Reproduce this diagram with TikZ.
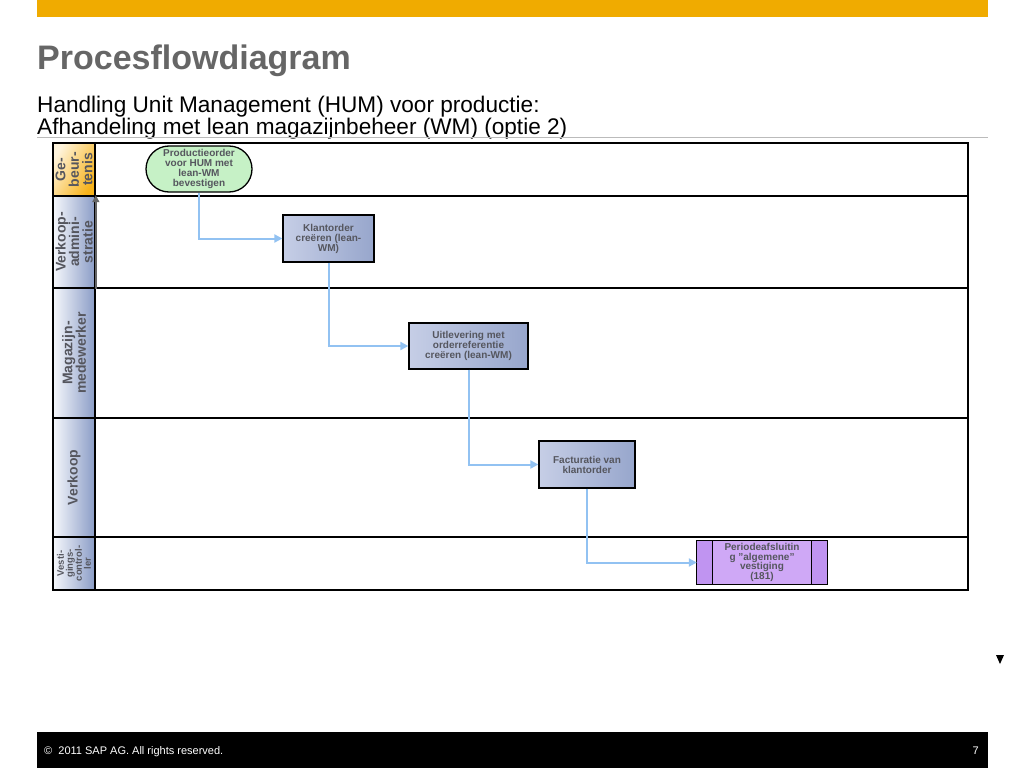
\documentclass[tikz,border=0pt]{standalone}
\usepackage{fontspec}
\setmainfont{Liberation Sans}
\usetikzlibrary{arrows.meta,shapes.misc}
\definecolor{sapgold}{HTML}{F0AB00}
\definecolor{titlegray}{HTML}{666666}
\definecolor{labeltext}{HTML}{55565E}
\definecolor{cellblueL}{HTML}{F6F8FC}
\definecolor{cellblueR}{HTML}{8A9CC6}
\definecolor{cellorL}{HTML}{FFF4DC}
\definecolor{cellorR}{HTML}{F6B21A}
\definecolor{boxA}{HTML}{C6CEE6}
\definecolor{boxB}{HTML}{F3F5FA}
\definecolor{boxC}{HTML}{97A6CC}
\definecolor{flowblue}{HTML}{92C2F2}
\definecolor{greenA}{HTML}{C6F1C6}
\definecolor{greenB}{HTML}{EAFDEA}
\definecolor{purpA}{HTML}{CFA8F6}
\definecolor{purpB}{HTML}{E6D2FC}
\definecolor{purpS}{HTML}{C094F1}
\definecolor{rulegray}{HTML}{BBBBBB}
\tikzset{
  lanecell/.style={draw=black, line width=1.6pt, minimum width=42pt, inner sep=0pt,
    left color=cellblueL, right color=cellblueR},
  lanebox/.style={draw=black, line width=1.6pt, minimum width=873pt, inner sep=0pt, fill=white},
  lanelabel/.style={rotate=90, align=center, text=labeltext,
    font=\fontsize{14}{13.5}\selectfont\bfseries},
  pbox/.style={draw=black, line width=1.3pt, inner sep=1pt, align=center, text=labeltext,
    left color=boxA, middle color=boxB, right color=boxC,
    font=\fontsize{10}{10}\selectfont\bfseries},
  flow/.style={draw=flowblue, line width=2pt, -{Triangle[width=8pt,length=8pt]}},
}
\begin{document}
\begin{tikzpicture}[x=1pt,y=-1pt]
\useasboundingbox (0,0) rectangle (1024,768);
\fill[white] (0,0) rectangle (1024,768);
% header
\fill[sapgold] (37,0) rectangle (988,17);
\node[anchor=base west, inner sep=0pt, text=titlegray, font=\fontsize{34}{40}\selectfont\bfseries] (title) at (37,70) {Procesflowdiagram};
\node[anchor=base west, inner sep=0pt, font=\fontsize{22.6}{25}\selectfont] (sub1) at (37,112) {Handling Unit Management (HUM) voor productie:};
\node[anchor=base west, inner sep=0pt, font=\fontsize{22.6}{25}\selectfont] (sub2) at (37,134) {Afhandeling met lean magazijnbeheer (WM) (optie 2)};
\draw[rulegray, line width=1.5pt] (37,137.5) -- (988,137.5);
% lanes
\node[lanebox, minimum height=53pt] (l1) at (531.5,169.5) {};
\node[lanebox, minimum height=92pt] (l2) at (531.5,242) {};
\node[lanebox, minimum height=130pt] (l3) at (531.5,353) {};
\node[lanebox, minimum height=119pt] (l4) at (531.5,477.5) {};
\node[lanebox, minimum height=53pt] (l5) at (531.5,563.5) {};
\node[lanecell, minimum height=53pt, left color=cellorL, right color=cellorR, shading angle=60] (c1) at (74,169.5) {};
\node[lanecell, minimum height=92pt] (c2) at (74,242) {};
\node[lanecell, minimum height=130pt] (c3) at (74,353) {};
\node[lanecell, minimum height=119pt] (c4) at (74,477.5) {};
\node[lanecell, minimum height=53pt] (c5) at (74,563.5) {};
\node[lanelabel] at (c1) {Ge-\\beur-\\tenis};
\node[lanelabel] at (c2) {Verkoop-\\admini-\\stratie};
\node[lanelabel] at (c3) {Magazijn-\\medewerker};
\node[lanelabel] at (c4) {Verkoop};
\node[lanelabel, font=\fontsize{9.5}{9}\selectfont\bfseries] at (c5) {Vesti-\\gings-\\control-\\ler};
\draw[gray!80!black, line width=1.8pt, -{Triangle[width=7pt,length=7pt]}] (c2.south east) -- (c2.north east);
% process nodes
\node[rounded rectangle, draw=black, line width=1.3pt, minimum width=108pt, minimum height=46pt,
  inner sep=1pt, align=center, text=labeltext, left color=greenA, middle color=greenB, right color=greenA,
  font=\fontsize{10}{10}\selectfont\bfseries] (ev) at (199,169) {Productieorder\\voor HUM met\\lean-WM\\bevestigen};
\node[pbox, minimum width=91pt, minimum height=47pt] (ko) at (328.5,238.5) {Klantorder\\creëren (lean-\\WM)};
\node[pbox, minimum width=119pt, minimum height=46pt] (ul) at (468.5,346) {Uitlevering met\\orderreferentie\\creëren (lean-WM)};
\node[pbox, minimum width=96pt, minimum height=47pt] (fa) at (587,464.5) {Facturatie van\\klantorder};
\node[minimum width=130pt, minimum height=43pt, inner sep=0pt, left color=purpA, middle color=purpB, right color=purpA] (pe) at (762,562.5) {};
\fill[purpS] (pe.north west) rectangle ([xshift=16pt]pe.south west);
\fill[purpS] ([xshift=-16pt]pe.north east) rectangle (pe.south east);
\draw[black, line width=1.3pt] (pe.north west) rectangle (pe.south east);
\draw[black, line width=1.1pt] ([xshift=16pt]pe.north west) -- ([xshift=16pt]pe.south west);
\draw[black, line width=1.1pt] ([xshift=-16pt]pe.north east) -- ([xshift=-16pt]pe.south east);
\node[align=center, text=labeltext, font=\fontsize{10}{9.5}\selectfont\bfseries, inner sep=0pt] (pet) at (pe) {Periodeafsluitin\\g "algemene"\\vestiging\\(181)};
% connectors
\draw[flow] (ev.south) |- (ko.west);
\draw[flow] (ko.south) |- (ul.west);
\draw[flow] (ul.south) |- (fa.west);
\draw[flow] (fa.south) |- (pe.west);
% marker
\fill[black] (996,655) -- (1004,655) -- (1000,664) -- cycle;
% footer
\fill[black] (37,732) rectangle (988,768);
\node[anchor=base west, inner sep=0pt, text=white, font=\fontsize{11}{13}\selectfont] (copy) at (44,754) {©\ \ 2011 SAP AG. All rights reserved.};
\node[anchor=base east, inner sep=0pt, text=white, font=\fontsize{11}{13}\selectfont] (page) at (979,754) {7};
\end{tikzpicture}
\end{document}
